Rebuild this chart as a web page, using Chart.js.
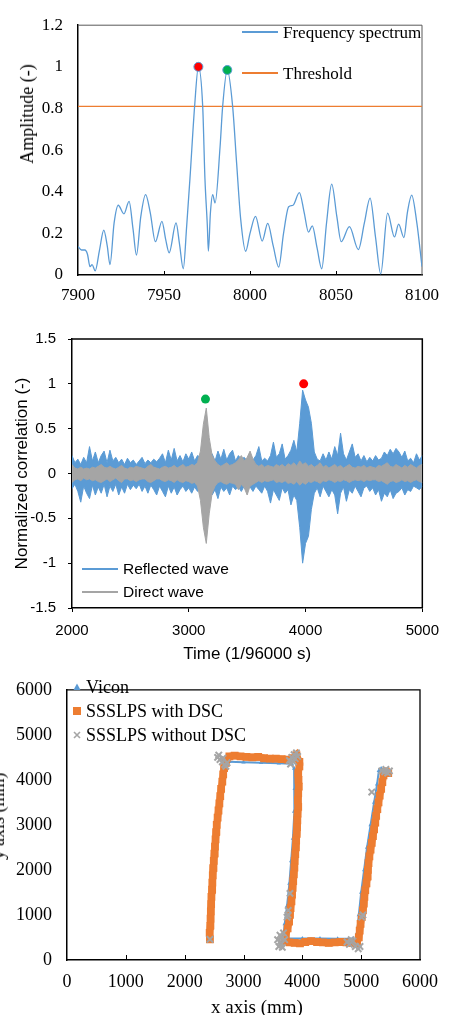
<!DOCTYPE html>
<html lang="en">
<head>
<meta charset="UTF-8">
<title>Spectrum, correlation and trajectory</title>
<script src="https://cdn.jsdelivr.net/npm/chart.js"></script>
<style>
    body { margin: 0; background: #fff; }
    #page { position: relative; width: 449px; height: 1015px; overflow: hidden; background: #fff; }
    canvas { position: absolute; }
    .txt { position: absolute; white-space: nowrap; line-height: 1; color: #000; transform: translateY(-50%); }
    .ctr { transform: translate(-50%, -50%); }
    .rot { transform: translate(-50%, -50%) rotate(-90deg); }
    .serif { font-family: "Liberation Serif", "DejaVu Serif", serif; }
    .sans { font-family: "Liberation Sans", Arial, sans-serif; }
    .swatch { position: absolute; height: 1.5px; }
</style>
</head>
<body>
<div id="page">
    <canvas id="spectrum" width="449" height="310" style="left:0;top:0"></canvas>
    <canvas id="corr" width="449" height="347" style="left:0;top:318px"></canvas>
    <canvas id="track" width="469" height="351" style="left:-20px;top:664px"></canvas>

    <!-- chart 1 legend + y title -->
    <div class="swatch" style="left:242px;top:31px;width:36px;background:#5B9BD5"></div>
    <div class="txt serif" style="left:283px;top:32px;font-size:17px">Frequency spectrum</div>
    <div class="swatch" style="left:242px;top:72px;width:36px;background:#ED7D31"></div>
    <div class="txt serif" style="left:283px;top:73px;font-size:17px">Threshold</div>
    <div class="txt serif rot" style="left:27px;top:114px;font-size:18px">Amplitude (-)</div>

    <!-- chart 2 legend -->
    <div class="swatch" style="left:82px;top:568px;width:36px;background:#5B9BD5"></div>
    <div class="txt sans" style="left:123px;top:569px;font-size:15.5px">Reflected wave</div>
    <div class="swatch" style="left:82px;top:591px;width:36px;background:#A5A5A5"></div>
    <div class="txt sans" style="left:123px;top:592px;font-size:15.5px">Direct wave</div>

    <!-- chart 3 legend + titles -->
    <svg style="position:absolute;left:73px;top:683px" width="8" height="8"><polygon points="4,0.5 7.5,7 0.5,7" fill="#5B9BD5"/></svg>
    <div class="txt serif" style="left:86px;top:687px;font-size:18px">Vicon</div>
    <svg style="position:absolute;left:73px;top:707px" width="8" height="8"><rect x="0" y="0" width="8" height="8" fill="#ED7D31"/></svg>
    <div class="txt serif" style="left:86px;top:711px;font-size:18px">SSSLPS with DSC</div>
    <svg style="position:absolute;left:73px;top:731px" width="8" height="8"><path d="M1,1 L7,7 M7,1 L1,7" stroke="#A5A5A5" stroke-width="1.6"/></svg>
    <div class="txt serif" style="left:86px;top:735px;font-size:18px">SSSLPS without DSC</div>
    <div class="txt serif ctr" style="left:257px;top:1006px;font-size:19px">x axis (mm)</div>
    <div class="txt serif rot" style="left:-2px;top:816px;font-size:18px">y axis (mm)</div>
</div>

<script>
// ---- chart 1: frequency spectrum ----
const freq = [7900, 7902, 7904, 7905.5, 7907, 7908.2, 7910, 7912.5, 7915, 7917, 7918.6, 7921, 7923.4, 7926.7, 7929.7,
    7932, 7934, 7936.5, 7939.3, 7942, 7945, 7948.8, 7951, 7953, 7957, 7959, 7961.2, 7963.2, 7965.1, 7967.8,
    7970, 7972.5, 7973.8, 7975.2, 7975.8, 7977, 7978.3, 7979.7, 7982.6, 7984.1, 7986.8, 7989.9, 7992.2, 7994.6,
    7997.5, 8000, 8003.2, 8007.1, 8010.3, 8013.5, 8016.7, 8019.5, 8022.5, 8025, 8028.7, 8031.5, 8034, 8036.2,
    8039, 8041.7, 8044.5, 8047.5, 8050.5, 8053, 8057.8, 8063, 8066.5, 8069.8, 8073, 8076, 8080, 8084, 8086.4,
    8089.5, 8091.5, 8094, 8097, 8100];
const amp = [0.137, 0.12, 0.12, 0.10, 0.04, 0.05, 0.02, 0.12, 0.216, 0.14, 0.05, 0.25, 0.335, 0.294, 0.354,
    0.22, 0.096, 0.28, 0.386, 0.30, 0.16, 0.258, 0.17, 0.107, 0.25, 0.15, 0.03, 0.237, 0.464, 0.81,
    1.0, 0.81, 0.464, 0.237, 0.115, 0.30, 0.386, 0.346, 0.616, 0.81, 0.985, 0.81, 0.54, 0.267,
    0.114, 0.2, 0.282, 0.163, 0.248, 0.14, 0.038, 0.2, 0.328, 0.335, 0.396, 0.30, 0.206, 0.236,
    0.13, 0.03, 0.25, 0.437, 0.28, 0.16, 0.232, 0.122, 0.25, 0.369, 0.18, 0.005, 0.297, 0.183, 0.244,
    0.18, 0.30, 0.384, 0.25, 0.04];
const thresholdFreq = [7900, 8100];
const thresholdAmp = [0.81, 0.81];
const specPeakFreq = [7970, 7986.8];
const specPeakAmp = [1.0, 0.985];
const specPeakColors = ['#FF0000', '#00B050'];
const freqTicks = [7900, 7950, 8000, 8050, 8100];
const freqTickLabels = ['7900', '7950', '8000', '8050', '8100'];
const ampTicks = [0, 0.2, 0.4, 0.6, 0.8, 1, 1.2];
const ampTickLabels = ['0', '0.2', '0.4', '0.6', '0.8', '1', '1.2'];

// ---- chart 2: normalized correlation (envelopes read every 25 samples) ----
const corrTime = [2000, 2025, 2050, 2075, 2100, 2125, 2150, 2175, 2200, 2225, 2250, 2275, 2300, 2325, 2350, 2375,
    2400, 2425, 2450, 2475, 2500, 2525, 2550, 2575, 2600, 2625, 2650, 2675, 2700, 2725, 2750, 2775, 2800, 2825,
    2850, 2875, 2900, 2925, 2950, 2975, 3000, 3025, 3050, 3075, 3100, 3125, 3150, 3175, 3200, 3225, 3250, 3275,
    3300, 3325, 3350, 3375, 3400, 3425, 3450, 3475, 3500, 3525, 3550, 3575, 3600, 3625, 3650, 3675, 3700, 3725,
    3750, 3775, 3800, 3825, 3850, 3875, 3900, 3925, 3950, 3975, 4000, 4025, 4050, 4075, 4100, 4125, 4150, 4175,
    4200, 4225, 4250, 4275, 4300, 4325, 4350, 4375, 4400, 4425, 4450, 4475, 4500, 4525, 4550, 4575, 4600, 4625,
    4650, 4675, 4700, 4725, 4750, 4775, 4800, 4825, 4850, 4875, 4900, 4925, 4950, 4975, 5000];
const reflectedUpper = [0.20, 0.12, 0.16, 0.10, 0.18, 0.12, 0.30, 0.14, 0.24, 0.12,
    0.20, 0.25, 0.12, 0.26, 0.14, 0.18, 0.12, 0.16, 0.10, 0.17,
    0.12, 0.15, 0.10, 0.14, 0.18, 0.11, 0.15, 0.12, 0.16, 0.13,
    0.17, 0.22, 0.12, 0.26, 0.15, 0.28, 0.14, 0.20, 0.13, 0.22,
    0.16, 0.24, 0.14, 0.20, 0.18, 0.22, 0.20, 0.16, 0.22, 0.14,
    0.25, 0.16, 0.27, 0.15, 0.22, 0.26, 0.14, 0.20, 0.16, 0.18,
    0.14, 0.18, 0.15, 0.20, 0.30, 0.14, 0.17, 0.14, 0.20, 0.35,
    0.18, 0.22, 0.33, 0.16, 0.20, 0.26, 0.37, 0.24, 0.56, 0.93,
    0.82, 0.74, 0.56, 0.24, 0.16, 0.14, 0.22, 0.15, 0.24, 0.16,
    0.30, 0.20, 0.45, 0.22, 0.15, 0.24, 0.33, 0.18, 0.22, 0.14,
    0.20, 0.13, 0.18, 0.14, 0.20, 0.15, 0.17, 0.24, 0.20, 0.27,
    0.22, 0.28, 0.24, 0.18, 0.25, 0.14, 0.17, 0.12, 0.22, 0.15,
    0.20];
const reflectedLower = [-0.17, -0.12, -0.20, -0.32, -0.14, -0.22, -0.28, -0.13, -0.24, -0.15,
    -0.22, -0.12, -0.26, -0.14, -0.20, -0.12, -0.24, -0.15, -0.22, -0.12,
    -0.18, -0.13, -0.17, -0.12, -0.20, -0.14, -0.22, -0.13, -0.18, -0.24,
    -0.14, -0.20, -0.26, -0.14, -0.22, -0.15, -0.24, -0.18, -0.14, -0.20,
    -0.16, -0.22, -0.15, -0.20, -0.16, -0.22, -0.18, -0.14, -0.24, -0.18,
    -0.28, -0.15, -0.20, -0.16, -0.24, -0.14, -0.18, -0.15, -0.20, -0.14,
    -0.17, -0.15, -0.20, -0.14, -0.18, -0.22, -0.14, -0.20, -0.33, -0.18,
    -0.24, -0.30, -0.16, -0.22, -0.18, -0.35, -0.24, -0.30, -0.60, -1.00,
    -0.78, -0.70, -0.40, -0.22, -0.16, -0.26, -0.14, -0.20, -0.26, -0.18,
    -0.24, -0.45, -0.22, -0.15, -0.31, -0.18, -0.22, -0.14, -0.20, -0.26,
    -0.16, -0.14, -0.20, -0.16, -0.24, -0.18, -0.31, -0.22, -0.26, -0.18,
    -0.28, -0.22, -0.20, -0.16, -0.24, -0.18, -0.20, -0.14, -0.16, -0.18,
    -0.14];
const directUpper = [0.10, 0.06, 0.05, 0.07, 0.05, 0.06, 0.05, 0.07, 0.06, 0.08,
    0.10, 0.07, 0.06, 0.08, 0.06, 0.05, 0.07, 0.09, 0.06, 0.05,
    0.07, 0.06, 0.08, 0.07, 0.06, 0.05, 0.08, 0.10, 0.07, 0.06,
    0.05, 0.07, 0.08, 0.06, 0.07, 0.09, 0.06, 0.08, 0.10, 0.07,
    0.08, 0.10, 0.09, 0.12, 0.25, 0.55, 0.73, 0.40, 0.20, 0.14,
    0.10, 0.08, 0.10, 0.12, 0.09, 0.10, 0.12, 0.15, 0.20, 0.14,
    0.18, 0.25, 0.16, 0.10, 0.08, 0.10, 0.07, 0.09, 0.08, 0.07,
    0.10, 0.08, 0.10, 0.07, 0.11, 0.09, 0.12, 0.08, 0.14, 0.10,
    0.12, 0.08, 0.10, 0.07, 0.09, 0.12, 0.07, 0.09, 0.06, 0.08,
    0.10, 0.07, 0.09, 0.06, 0.08, 0.10, 0.07, 0.06, 0.08, 0.07,
    0.09, 0.06, 0.08, 0.07, 0.06, 0.09, 0.08, 0.10, 0.12, 0.08,
    0.07, 0.10, 0.08, 0.06, 0.09, 0.07, 0.10, 0.08, 0.06, 0.09,
    0.10];
const directLower = [-0.10, -0.07, -0.06, -0.08, -0.05, -0.07, -0.06, -0.08, -0.07, -0.09,
    -0.10, -0.08, -0.06, -0.09, -0.07, -0.05, -0.08, -0.10, -0.06, -0.06,
    -0.08, -0.07, -0.09, -0.07, -0.06, -0.06, -0.09, -0.10, -0.08, -0.06,
    -0.06, -0.08, -0.09, -0.07, -0.08, -0.10, -0.07, -0.09, -0.10, -0.08,
    -0.09, -0.11, -0.10, -0.14, -0.30, -0.60, -0.78, -0.45, -0.22, -0.14,
    -0.10, -0.09, -0.11, -0.12, -0.10, -0.11, -0.12, -0.18, -0.12, -0.16,
    -0.24, -0.14, -0.12, -0.10, -0.08, -0.10, -0.08, -0.09, -0.08, -0.07,
    -0.10, -0.09, -0.10, -0.08, -0.11, -0.10, -0.12, -0.09, -0.13, -0.10,
    -0.12, -0.09, -0.10, -0.08, -0.09, -0.11, -0.08, -0.09, -0.07, -0.08,
    -0.10, -0.08, -0.09, -0.07, -0.08, -0.10, -0.08, -0.07, -0.08, -0.07,
    -0.09, -0.07, -0.08, -0.07, -0.07, -0.09, -0.08, -0.10, -0.12, -0.09,
    -0.08, -0.10, -0.09, -0.07, -0.09, -0.08, -0.10, -0.08, -0.07, -0.09,
    -0.10];
const corrPeakTime = [3143, 3984];
const corrPeakValue = [0.83, 1.0];
const corrPeakColors = ['#00B050', '#FF0000'];
const timeTicks = [2000, 3000, 4000, 5000];
const timeTickLabels = ['2000', '3000', '4000', '5000'];
const corrTicks = [-1.5, -1, -0.5, 0, 0.5, 1, 1.5];
const corrTickLabels = ['-1.5', '-1', '-0.5', '0', '0.5', '1', '1.5'];

// ---- chart 3: trajectories (mm) ----
const viconX = [2425, 2430, 2445, 2475, 2515, 2560, 2610, 2660, 2690, 2760, 3000, 3300, 3600, 3820, 3860, 3870, 3860, 3840, 3810, 3780,
    3740, 3700, 3680, 3750, 4000, 4300, 4600, 4850, 4910, 4930, 4960, 5000, 5050, 5100, 5160, 5220, 5270, 5300, 5340, 5420];
const viconY = [470, 1000, 1600, 2200, 2800, 3300, 3800, 4200, 4400, 4400, 4390, 4380, 4370, 4360, 4250, 3800, 3300, 2700, 2200, 1700,
    1200, 800, 500, 480, 480, 480, 470, 470, 440, 600, 1000, 1500, 2000, 2500, 3000, 3500, 3900, 4200, 4250, 4200];
const dscX = [2430, 2425, 2435, 2440, 2445, 2450, 2455, 2465, 2470, 2478, 2485, 2495, 2505, 2515, 2525, 2535, 2545, 2560, 2575, 2590, 2605, 2620, 2640, 2655, 2670, 2700,
    2760, 2850, 2950, 3050, 3150, 3250, 3350, 3450, 3550, 3650, 3750, 3850, 3900, 3950, 3950,
    3930, 3935, 3940, 3930, 3925, 3930, 3920, 3915, 3910, 3905, 3895, 3890, 3880, 3870, 3865, 3855, 3845, 3835, 3825, 3815, 3800, 3790, 3775, 3750, 3720,
    3700, 3780, 3870, 3960, 4050, 4150, 4250, 4350, 4450, 4550, 4650, 4750, 4850, 4930,
    4960, 4975, 4990, 5010, 5030, 5045, 5055, 5070, 5090, 5105, 5115, 5125, 5140, 5160, 5180, 5200, 5220, 5240, 5255, 5275, 5295, 5315, 5340, 5360, 5380, 5420, 5460];
const dscY = [460, 600, 760, 920, 1080, 1240, 1400, 1560, 1720, 1880, 2040, 2200, 2360, 2520, 2680, 2840, 3000, 3160, 3320, 3480, 3640, 3800, 3960, 4120, 4260, 4380,
    4520, 4540, 4520, 4510, 4500, 4510, 4480, 4470, 4470, 4460, 4450, 4480, 4550, 4400, 4300,
    4150, 4000, 3850, 3700, 3550, 3400, 3250, 3100, 2950, 2800, 2650, 2500, 2350, 2200, 2050, 1900, 1750, 1600, 1450, 1300, 1150, 1000, 850, 700, 560,
    420, 390, 380, 370, 400, 420, 400, 390, 380, 390, 400, 390, 380, 370,
    500, 650, 800, 950, 1100, 1250, 1400, 1550, 1700, 1850, 2000, 2150, 2300, 2450, 2600, 2750, 2900, 3050, 3200, 3350, 3500, 3650, 3800, 3950, 4100, 4180, 4150];
const noDscX = [2430, 2560, 2600, 2640, 2680, 2720, 2700, 2580, 2650, 3780, 3820, 3860, 3900, 3850, 3920, 3800, 3880,
    3790, 3760, 3740, 3755, 3620, 3650, 3680, 3600, 3640, 3700, 3620, 3580, 3660,
    4760, 4800, 4860, 4900, 4950, 4980, 4830, 5010, 5030, 5350, 5400, 5450, 5480, 5420, 5180];
const noDscY = [460, 4500, 4450, 4400, 4340, 4380, 4300, 4550, 4480, 4430, 4500, 4560, 4600, 4400, 4520, 4350, 4470,
    1480, 1100, 950, 1000, 400, 500, 600, 300, 350, 450, 550, 450, 280,
    400, 350, 420, 300, 250, 300, 450, 950, 1000, 4200, 4180, 4150, 4200, 4230, 3730];
const mmTicks = [0, 1000, 2000, 3000, 4000, 5000, 6000];
const mmTickLabels = ['0', '1000', '2000', '3000', '4000', '5000', '6000'];

const BLUE = '#5B9BD5', ORANGE = '#ED7D31', GRAY = '#A5A5A5';
const SERIF = 'Liberation Serif', SANS = 'Liberation Sans';

function pts(xs, ys) {
    return xs.map((x, i) => ({ x: x, y: ys[i] }));
}

// top/right border of the plot box, plus small inward ticks on the x axis
const framePlugin = {
    id: 'frame',
    beforeDatasetsDraw(chart, args, o) {
        if (!o || !o.color) return;
        const a = chart.chartArea, ctx = chart.ctx;
        ctx.save();
        ctx.strokeStyle = o.color;
        ctx.lineWidth = o.width;
        ctx.beginPath();
        ctx.moveTo(a.left, a.top);
        ctx.lineTo(a.right, a.top);
        ctx.lineTo(a.right, a.bottom);
        ctx.stroke();
        if (o.innerTicks) {
            ctx.strokeStyle = '#000';
            ctx.lineWidth = 1;
            o.innerTicks.forEach(v => {
                const px = Math.round(chart.scales.x.getPixelForValue(v)) + 0.5;
                ctx.beginPath();
                ctx.moveTo(px, a.bottom);
                ctx.lineTo(px, a.bottom - o.tickLen);
                ctx.stroke();
            });
        }
        ctx.restore();
    }
};
Chart.register(framePlugin);

function axis(opts) {
    return {
        type: 'linear',
        min: opts.min,
        max: opts.max,
        afterBuildTicks: s => { s.ticks = opts.ticks.map(v => ({ value: v })); },
        ticks: {
            callback: (v, i) => opts.labels[i],
            font: { family: opts.family, size: opts.size },
            color: '#000',
            padding: opts.padding,
            autoSkip: false,
            maxRotation: 0
        },
        grid: opts.tickLength
            ? { display: true, drawOnChartArea: false, drawTicks: true, tickLength: opts.tickLength, color: '#000' }
            : { display: false, drawTicks: false },
        border: { color: '#000', width: 1.5 },
        title: opts.title || { display: false },
        afterFit: s => {
            if (opts.width) s.width = opts.width;
            if (opts.height) s.height = opts.height;
        }
    };
}

const base = {
    animation: false,
    responsive: false,
    devicePixelRatio: 1,
    events: []
};

new Chart(document.getElementById('spectrum'), {
    type: 'line',
    data: {
        datasets: [
            {
                data: pts(specPeakFreq, specPeakAmp),
                showLine: false,
                pointRadius: 4.5,
                pointBackgroundColor: specPeakColors,
                pointBorderColor: BLUE,
                pointBorderWidth: 1
            },
            {
                label: 'Frequency spectrum',
                data: pts(freq, amp),
                borderColor: BLUE,
                borderWidth: 1.3,
                pointRadius: 0,
                cubicInterpolationMode: 'monotone'
            },
            {
                label: 'Threshold',
                data: pts(thresholdFreq, thresholdAmp),
                borderColor: ORANGE,
                borderWidth: 1.3,
                pointRadius: 0
            }
        ]
    },
    options: Object.assign({}, base, {
        layout: { padding: { top: 12, right: 27, left: 0, bottom: 0 } },
        plugins: {
            legend: { display: false },
            tooltip: { enabled: false },
            frame: { color: '#595959', width: 1, innerTicks: freqTicks.slice(1, -1), tickLen: 4 }
        },
        scales: {
            x: axis({ min: 7900, max: 8100, ticks: freqTicks, labels: freqTickLabels, family: SERIF, size: 17, padding: 10, height: 35 }),
            y: axis({ min: 0, max: 1.2, ticks: ampTicks, labels: ampTickLabels, family: SERIF, size: 17, padding: 15, width: 78 })
        }
    })
});

new Chart(document.getElementById('corr'), {
    type: 'line',
    data: {
        datasets: [
            {
                data: pts(corrPeakTime, corrPeakValue),
                showLine: false,
                pointRadius: 4.5,
                pointBackgroundColor: corrPeakColors,
                pointBorderWidth: 0
            },
            {
                label: 'Direct wave',
                data: pts(corrTime, directUpper),
                borderColor: GRAY,
                backgroundColor: GRAY,
                borderWidth: 1,
                pointRadius: 0,
                fill: '+1'
            },
            {
                data: pts(corrTime, directLower),
                borderColor: GRAY,
                borderWidth: 1,
                pointRadius: 0,
                fill: false
            },
            {
                label: 'Reflected wave',
                data: pts(corrTime, reflectedUpper),
                borderColor: BLUE,
                backgroundColor: BLUE,
                borderWidth: 1,
                pointRadius: 0,
                fill: '+1'
            },
            {
                data: pts(corrTime, reflectedLower),
                borderColor: BLUE,
                borderWidth: 1,
                pointRadius: 0,
                fill: false
            }
        ]
    },
    options: Object.assign({}, base, {
        layout: { padding: { top: 21, right: 23, left: 0, bottom: 0 } },
        plugins: {
            legend: { display: false },
            tooltip: { enabled: false },
            frame: { color: '#000', width: 1.5 }
        },
        scales: {
            x: axis({
                min: 2000, max: 5000, ticks: timeTicks, labels: timeTickLabels, family: SANS, size: 15,
                padding: 10, tickLength: 4, height: 57,
                title: { display: true, text: 'Time (1/96000 s)', color: '#000', font: { family: SANS, size: 17 }, padding: { top: 0, bottom: 0 } }
            }),
            y: axis({
                min: -1.5, max: 1.5, ticks: corrTicks, labels: corrTickLabels, family: SANS, size: 15,
                padding: 12, tickLength: 4, width: 72,
                title: { display: true, text: 'Normalized correlation (-)', color: '#000', font: { family: SANS, size: 17 }, padding: { top: 12, bottom: 0 } }
            })
        }
    })
});

new Chart(document.getElementById('track'), {
    type: 'line',
    data: {
        datasets: [
            {
                label: 'SSSLPS without DSC',
                data: pts(noDscX, noDscY),
                showLine: false,
                pointStyle: 'crossRot',
                pointRadius: 4.5,
                pointBorderColor: GRAY,
                pointBorderWidth: 2,
                order: 0
            },
            {
                label: 'SSSLPS with DSC',
                data: pts(dscX, dscY),
                borderColor: ORANGE,
                borderWidth: 7,
                pointStyle: 'rect',
                pointRadius: 5.5,
                pointBackgroundColor: ORANGE,
                pointBorderWidth: 0,
                order: 1
            },
            {
                label: 'Vicon',
                data: pts(viconX, viconY),
                borderColor: BLUE,
                borderWidth: 2,
                pointStyle: 'triangle',
                pointRadius: 2.5,
                pointBackgroundColor: BLUE,
                pointBorderWidth: 0,
                order: 2
            }
        ]
    },
    options: Object.assign({}, base, {
        layout: { padding: { top: 13, right: 21, left: 0, bottom: 0 } },
        plugins: {
            legend: { display: false },
            tooltip: { enabled: false },
            frame: { color: '#000', width: 1.3, innerTicks: mmTicks.slice(1, -1), tickLen: 5 }
        },
        scales: {
            x: axis({ min: 0, max: 6000, ticks: mmTicks, labels: mmTickLabels, family: SERIF, size: 18, padding: 11, height: 55 }),
            y: axis({ min: 0, max: 6000, ticks: mmTicks, labels: mmTickLabels, family: SERIF, size: 18, padding: 15, width: 87 })
        }
    })
});
</script>
</body>
</html>
